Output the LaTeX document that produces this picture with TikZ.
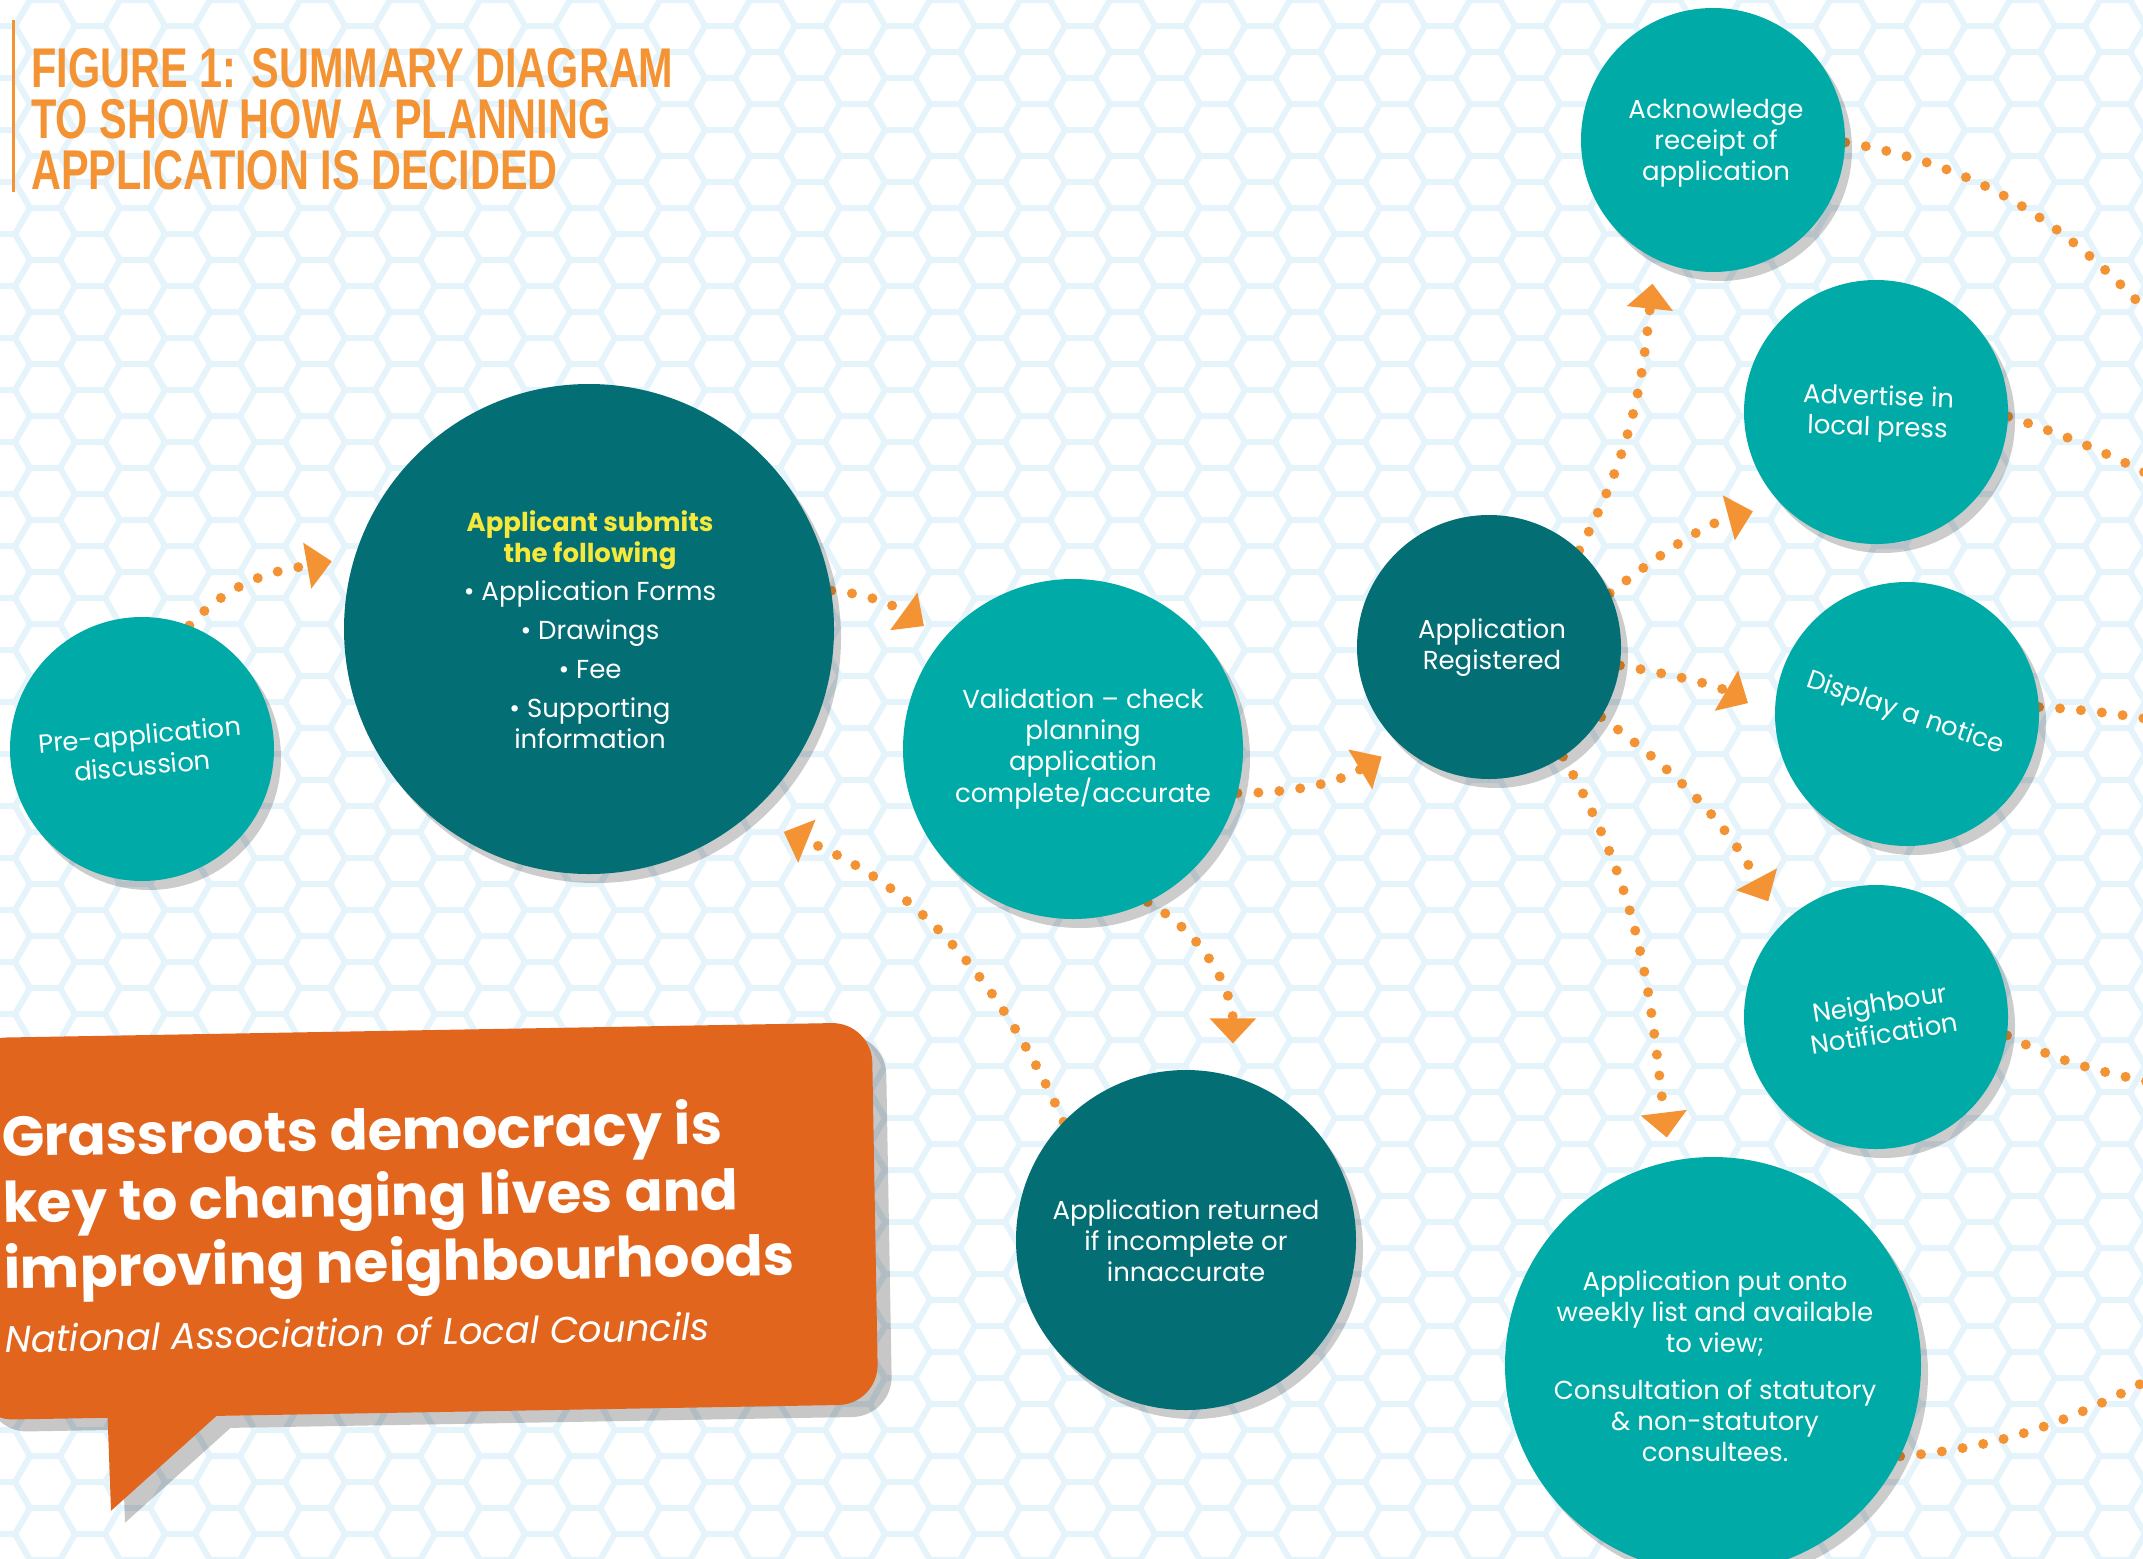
\documentclass[tikz,border=0pt]{standalone}
\usepackage{fontspec}
\setmainfont{Poppins}
\newfontfamily\titlefont{Liberation Sans}[FakeStretch=0.74]
\usetikzlibrary{positioning}
\usetikzlibrary{backgrounds}
\usetikzlibrary{shadows}
\usetikzlibrary{arrows.meta}

\definecolor{tealpale}{RGB}{0,171,167}
\definecolor{tealdeep}{RGB}{3,110,116}
\definecolor{dotorange}{RGB}{243,147,51}
\definecolor{bubbleorange}{RGB}{226,101,30}
\definecolor{headyellow}{RGB}{246,233,60}
\definecolor{hexblue}{RGB}{229,243,251}

\pgfdeclarelayer{hex}
\pgfsetlayers{hex,background,main}

\begin{document}
\begin{tikzpicture}[x=1pt, y=1pt,
task/.style = {circle, fill=tealpale, minimum size=264pt, inner sep=0pt,
  drop shadow={shadow xshift=7pt, shadow yshift=-9pt, opacity=.2, fill=black}},
milestone/.style = {task, fill=tealdeep},
note/.style = {text=white, align=center, font=\fontsize{26}{31}\selectfont},
flow/.style = {dotorange, line width=10pt, line cap=round, dash pattern=on 0pt off 21pt,
  -{Triangle[length=25pt, width=45pt]}},
trail/.style = {dotorange, line width=10pt, line cap=round, dash pattern=on 0pt off 21pt}]

\useasboundingbox (0, 0) rectangle (2143, -1558);

% honeycomb behind everything
\begin{pgfonlayer}{hex}
\begin{scope}
\clip (0, 0) rectangle (2143, -1558);
\fill[white] (0, 0) rectangle (2143, -1558);
\foreach \i in {0,...,48} {
  \foreach \j in {0,...,31} {
    \pgfmathsetmacro{\hx}{45*\i}
    \pgfmathsetmacro{\hy}{-52*\j - 26*mod(\i,2)}
    \draw[hexblue, line width=6pt, line join=round] (\hx, \hy) +(0:30) -- +(60:30) -- +(120:30) -- +(180:30);
  }
}
\end{scope}
\end{pgfonlayer}

% title
\node[anchor=north west, inner sep=0pt, align=left, text=dotorange,
  font=\titlefont\bfseries\fontsize{56}{51}\selectfont] (title) at (31, -48)
  {FIGURE 1: SUMMARY DIAGRAM\\TO SHOW HOW A PLANNING\\APPLICATION IS DECIDED};
\draw[dotorange, line width=3pt] (13, -20) -- (13, -192);

% circles
\node[task] (pre) at (142, -749) {};
\node[milestone, minimum size=490pt] (submit) at (589, -629) {};
\node[task, minimum size=340pt] (valid) at (1073, -749) {};
\node[milestone] (register) at (1489, -647) {};
\node[task] (acknowledge) at (1713, -140) {};
\node[task] (advertise) at (1876, -412) {};
\node[task] (notice) at (1907, -714) {};
\node[task] (neighbour) at (1876, -1017) {};
\node[milestone, minimum size=340pt] (returned) at (1186, -1240) {};
\node[task, minimum size=416pt] (weekly) at (1713, -1365) {};

% circle texts
\node[note, rotate=5] (pre text) at (141, -750) {Pre-application\\discussion};
\node[note] (submit text) at (590, -630)
  {{\bfseries\color{headyellow}Applicant submits}\\{\bfseries\color{headyellow}the following}\\[7pt]
   \textbullet{} Application Forms\\[8pt]
   \textbullet{} Drawings\\[8pt]
   \textbullet{} Fee\\[8pt]
   \textbullet{} Supporting\\information};
\node[note] (valid text) at (1083, -749) {Validation -- check\\planning\\application\\complete/accurate};
\node[note] (register text) at (1492, -648) {Application\\Registered};
\node[note] (acknowledge text) at (1716, -143) {Acknowledge\\receipt of\\application};
\node[note, rotate=-2] (advertise text) at (1878, -414) {Advertise in\\local press};
\node[note, rotate=-19] (notice text) at (1905, -714) {Display a notice};
\node[note, rotate=9] (neighbour text) at (1882, -1018) {Neighbour\\Notification};
\node[note] (returned text) at (1186, -1241) {Application returned\\if incomplete or\\innaccurate};
\node[note] (weekly text) at (1715, -1366)
  {Application put onto\\weekly list and available\\to view;\\[16pt]
   Consultation of statutory\\\& non-statutory\\consultees.};

% loose ends leaving the page
\coordinate (ack end) at (2190, -359);
\coordinate (press end) at (2190, -496);
\coordinate (notice end) at (2190, -725);
\coordinate (neighbour end) at (2190, -1091);
\coordinate (weekly end) at (2190, -1358);

\begin{scope}[on background layer]
\draw[flow, shorten >=23pt] (pre.69) to[out=47, in=190] (submit.163);
\draw[flow, shorten >=23pt] (submit.9) to[out=-5, in=144] (valid.140);
\draw[flow, shorten >=22pt] (valid.-15) to[out=0, in=211] (register.228);
\draw[flow, shorten >=33pt] (valid.-64) to[out=-30, in=90] (returned.74);
\draw[flow, shorten >=40pt] (returned.136) to[out=114, in=-22] (submit.-50);
\draw[flow, shorten >=25pt] (register.47) to[out=62, in=-96] (acknowledge.244);
\draw[flow, shorten >=29pt] (register.24) to[out=38, in=195] (advertise.224);
\draw[flow, shorten >=31pt] (register.-8) to[out=-10, in=150] (notice.182);
\draw[flow, shorten >=27pt] (register.-32) to[out=-36, in=118] (neighbour.136);
\draw[flow, shorten >=24pt] (register.-56) to[out=-60, in=97] (weekly.102);
\draw[trail] (acknowledge.-1) to[out=-10, in=131] (ack end);
\draw[trail] (advertise.-2) to[out=-18, in=152] (press end);
\draw[trail] (notice.3) to[out=-3, in=172] (notice end);
\draw[trail] (neighbour.-8) to[out=-27, in=167] (neighbour end);
\draw[trail] (weekly.-26) to[out=5, in=208] (weekly end);
\end{scope}

% speech bubble
\begin{scope}[rotate around={1:(437, -1220)}]
\path[fill=bubbleorange, drop shadow={shadow xshift=14pt, shadow yshift=-12pt, opacity=.22, fill=black}]
  [rounded corners=40pt] (-30, -1030) rectangle (875, -1412)
  [sharp corners] (104, -1400) -- (106, -1505) -- (227, -1400) -- cycle;
\node[transform shape, anchor=north west, inner sep=0pt, align=left, text=white,
  font=\bfseries\fontsize{56}{66}\selectfont] (quote) at (3, -1104)
  {Grassroots democracy is\\key to changing lives and\\improving neighbourhoods};
\node[transform shape, anchor=base west, inner sep=0pt, text=white,
  font=\itshape\fontsize{37}{44}\selectfont] (source) at (3, -1345)
  {National Association of Local Councils};
\end{scope}

\end{tikzpicture}
\end{document}
